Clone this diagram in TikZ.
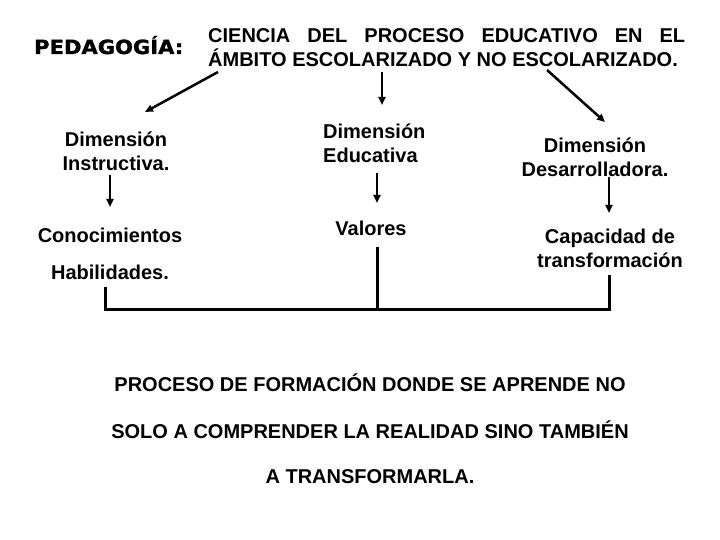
\documentclass[tikz,border=0pt]{standalone}
\usepackage{fontspec}
\setmainfont{Liberation Sans}
\newfontfamily\blackfont[FakeBold=1.5,FakeStretch=1.08]{DejaVu Sans Bold}
\usepackage{tikz}
\usetikzlibrary{arrows.meta}

\tikzset{
  txt/.style={font=\fontsize{20}{24}\selectfont\bfseries, inner sep=0pt},
  arr/.style={line width=2.5pt, -{Triangle[length=8pt,width=7pt]}},
  bar/.style={line width=3pt},
}

\begin{document}
\begin{tikzpicture}[x=1pt,y=-1pt]
	\useasboundingbox (0,0) rectangle (720,540);
	\node[anchor=base west, inner sep=0pt, font=\blackfont\fontsize{19.5}{24}\selectfont] (ped) at (34,54) {PEDAGOGÍA:};
	\node[txt, anchor=base west, align=left] (def) at (208,67) {\makebox[477pt][s]{CIENCIA DEL PROCESO EDUCATIVO EN EL}\\ÁMBITO ESCOLARIZADO Y NO ESCOLARIZADO.};
	\node[txt, anchor=base, align=center] (dinst) at (116,171) {Dimensión\\Instructiva.};
	\node[txt, anchor=base west, align=left] (deduc) at (323,163) {Dimensión\\Educativa};
	\node[txt, anchor=base, align=center] (ddes) at (595,177) {Dimensión\\Desarrolladora.};
	\node[txt, anchor=base, align=center] (cono) at (110,279) {Conocimientos\\[12pt]Habilidades.};
	\node[txt, anchor=base] (val) at (371,236) {Valores};
	\node[txt, anchor=base, align=center] (cap) at (610,267) {Capacidad de\\transformación};
	\node[txt, anchor=base, align=center] (fin) at (370,483) {PROCESO DE FORMACIÓN DONDE SE APRENDE NO\\[23pt]SOLO A COMPRENDER LA REALIDAD SINO TAMBIÉN\\[21pt]A TRANSFORMARLA.};
	% flechas de la definicion
	\coordinate (s1) at (218,72);
	\coordinate (e1) at (145,112);
	\coordinate (s2) at (382,72);
	\coordinate (e2) at (382,105);
	\coordinate (s3) at (547,70);
	\coordinate (e3) at (605,122);
	\draw[arr] (s1) -- (e1);
	\draw[arr] (s2) -- (e2);
	\draw[arr] (s3) -- (e3);
	% flechas de las dimensiones
	\draw[arr] (110,175) coordinate (s4) -- (110,207) coordinate (e4);
	\draw[arr] (377,173) coordinate (s5) -- (377,203) coordinate (e5);
	\draw[arr] (609,177) coordinate (s6) -- (609,213) coordinate (e6);
	% llave inferior
	\coordinate (l1) at (105,287);
	\coordinate (l2) at (377,247);
	\coordinate (l3) at (609,275);
	\draw[bar] (l1) -- (l1 |- 0,309) -- (l3 |- 0,309) -- (l3);
	\draw[bar] (l2) -- (l2 |- 0,309);
\end{tikzpicture}
\end{document}
